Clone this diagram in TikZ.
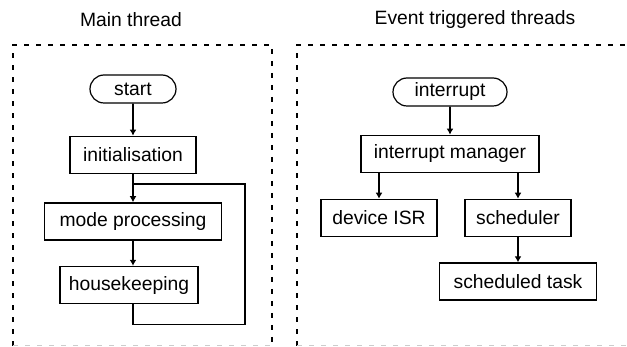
\documentclass[tikz,border=0pt]{standalone}
\usepackage{fontspec}
\setmainfont{Liberation Sans}
\usepackage{tikz}
\usetikzlibrary{positioning,arrows.meta,shapes.misc}

\begin{document}
\begin{tikzpicture}[
    x=1pt, y=-1pt,
    node distance=27pt and 27pt,
    font=\fontsize{19.3}{22}\selectfont,
    box/.style={draw, line width=1.6pt, minimum height=37pt, inner sep=0pt},
    term/.style={draw, line width=1.2pt, rounded rectangle, minimum height=28pt, inner sep=0pt},
    frame/.style={line width=1.5pt, dash pattern=on 5pt off 7pt},
    arrow/.style={-{Latex[length=6pt,width=7pt]}, line width=1.6pt},
    line/.style={line width=1.6pt}
  ]
    \useasboundingbox (0,0) rectangle (627,347);

    % frames
    \draw[frame] (13,346) -- (13,45) -- (272,45) -- (272,346);
    \draw[frame, black!20] (13,345.5) -- (272,345.5);
    \draw[frame] (297,346) -- (297,45) -- (630,45);
    \draw[frame, black!20] (297,345.5) -- (627,345.5);

    \node (main) at (131,20) {Main thread};
    \node (event) at (475,20) {Event triggered threads};

    % main thread
    \node[term, minimum width=86pt] (start) at (133,89) {start};
    \node[box, below=32pt of start, minimum width=126pt] (init) {initialisation};
    \node[box, below=28pt of init, minimum width=177pt] (mode) {mode processing};
    \node[box, below=25pt of mode, xshift=-4pt, minimum width=138pt] (house) {housekeeping};
    \coordinate (loop) at (245,184);

    \draw[arrow] (start) -- (init);
    \draw[arrow] (init) -- (mode);
    \draw[arrow] (mode.south) -- (mode.south |- house.north);
    \draw[line] (house.south -| init.south) -- ++(0,20) -| (loop) -- (loop -| init.south);

    % event triggered threads
    \node[term, minimum width=114pt] (irq) at (450,92) {interrupt};
    \node[box, below=28pt of irq, minimum width=178pt] (manager) {interrupt manager};
    \node[box, minimum width=116pt] (isr) at (379,218) {device ISR};
    \node[box, minimum width=106pt] (sched) at (518,218) {scheduler};
    \node[box, below=25pt of sched, minimum width=157pt] (task) {scheduled task};

    \draw[arrow] (irq) -- (manager);
    \draw[arrow] (isr.north |- manager.south) -- (isr.north);
    \draw[arrow] (sched.north |- manager.south) -- (sched.north);
    \draw[arrow] (sched) -- (task);
  \end{tikzpicture}
\end{document}
